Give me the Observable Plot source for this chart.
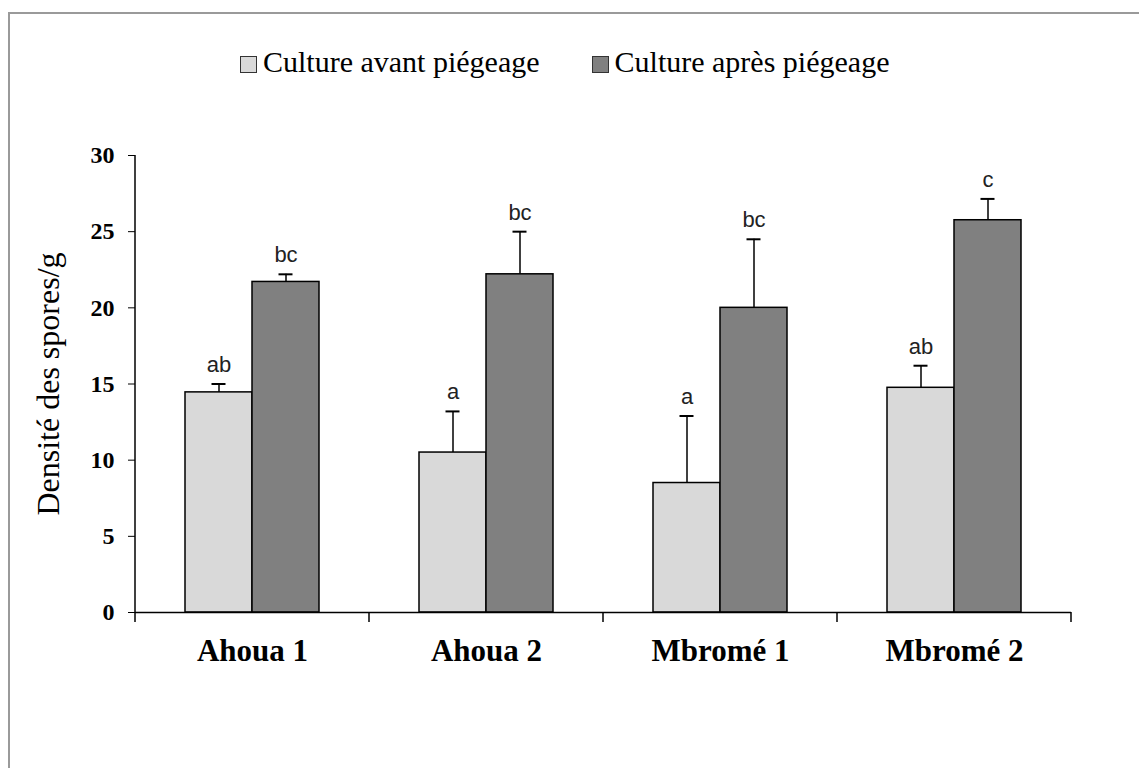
<!DOCTYPE html>
<html>
<head>
<meta charset="utf-8">
<script src="https://cdn.jsdelivr.net/npm/d3@7"></script>
<script src="https://cdn.jsdelivr.net/npm/@observablehq/plot@0.6"></script>
<style>
  html, body { margin: 0; padding: 0; background: #fff; overflow: hidden; }
  #wrap { position: relative; width: 1139px; height: 768px; }
  #frame { position: absolute; left: 8px; top: 12px; width: 1200px; height: 800px;
           border-top: 2px solid #9a9a9a; border-left: 2px solid #9a9a9a; pointer-events: none; }
  #legend { height: 90px; box-sizing: border-box; padding-top: 33px; padding-left: 240px;
            display: flex; gap: 52px;
            font-family: "Liberation Serif", "Times New Roman", serif; font-size: 30px; line-height: 34px; color: #000; }
  .item { display: flex; align-items: center; }
  .sw { width: 15px; height: 15px; border: 1.5px solid #333; margin-right: 6px; position: relative; top: 3px; }
  #chart svg { display: block; }
</style>
</head>
<body>
<div id="wrap">
  <div id="legend"></div>
  <div id="chart"></div>
  <div id="frame"></div>
</div>
<script>
// ---- data ----
const groups = ["Ahoua 1", "Ahoua 2", "Mbromé 1", "Mbromé 2"];
const series = ["Culture avant piégeage", "Culture après piégeage"];
const avant = [14.45, 10.5, 8.5, 14.75];
const avantErr = [0.55, 2.7, 4.4, 1.45];
const apres = [21.7, 22.2, 20.0, 25.75];
const apresErr = [0.5, 2.8, 4.5, 1.4];
const avantLetters = ["ab", "a", "a", "ab"];
const apresLetters = ["bc", "bc", "bc", "c"];
const yTicks = [0, 5, 10, 15, 20, 25, 30];
const yLabel = "Densité des spores/g";
const colors = ["#d9d9d9", "#808080"];

const rows = [];
groups.forEach((g, i) => {
  rows.push({group: g, series: series[0], value: avant[i], err: avantErr[i], top: avant[i] + avantErr[i], letter: avantLetters[i]});
  rows.push({group: g, series: series[1], value: apres[i], err: apresErr[i], top: apres[i] + apresErr[i], letter: apresLetters[i]});
});

const serif = "'Liberation Serif', 'Times New Roman', serif";
const sans = "'Liberation Sans', Arial, sans-serif";

// ---- legend ----
const legend = document.getElementById("legend");
series.forEach((s, i) => {
  const item = document.createElement("div");
  item.className = "item";
  const sw = document.createElement("span");
  sw.className = "sw";
  sw.style.background = colors[i];
  const t = document.createElement("span");
  t.textContent = s;
  item.appendChild(sw);
  item.appendChild(t);
  legend.appendChild(item);
});

// ---- chart ----
const plot = Plot.plot({
  width: 1139,
  height: 678,
  marginLeft: 135,
  marginRight: 68,
  marginTop: 65,
  marginBottom: 156,
  style: {background: "transparent", overflow: "visible"},
  fx: {domain: groups, padding: 0, axis: null},
  x: {domain: series, paddingInner: 0, paddingOuter: 0.746, axis: null},
  y: {domain: [0, 30], axis: null},
  color: {domain: series, range: colors},
  marks: [
    Plot.barY(rows, {fx: "group", x: "series", y: "value", fill: "series", stroke: "#000", strokeWidth: 1.5, inset: 0}),
    Plot.ruleX(rows, {fx: "group", x: "series", y1: "value", y2: "top", stroke: "#000", strokeWidth: 1.5}),
    Plot.tickY(rows, {fx: "group", x: "series", y: "top", stroke: "#000", strokeWidth: 2, insetLeft: 26.5, insetRight: 26.5}),
    Plot.text(rows, {fx: "group", x: "series", y: "top", text: "letter", dy: -19, fontSize: 22, fontFamily: sans, fill: "#222"}),
    Plot.ruleY([0], {stroke: "#000", strokeWidth: 1.5}),
    Plot.axisY({ticks: yTicks, tickSize: 7, tickPadding: 14, fontSize: 24, fontWeight: "bold", fontFamily: serif, label: null}),
    Plot.axisY({ticks: [], label: yLabel, labelAnchor: "center", labelArrow: "none", labelOffset: 99, fontSize: 32, fontFamily: serif}),
    Plot.axisFx({anchor: "bottom", tickSize: 0, tickPadding: 26, fontSize: 31, fontWeight: "bold", fontFamily: serif, label: null})
  ]
});
document.getElementById("chart").appendChild(plot);

// axis line and category boundary ticks, placed through the plot's own scales
const fxs = plot.scale("fx");
const ys = plot.scale("y");
const svg = d3.select(plot.tagName.toLowerCase() === "svg" ? plot : plot.querySelector("svg"));
const y0 = ys.apply(0), yTop = ys.apply(30);
const left = fxs.apply(groups[0]);
const gAxis = svg.append("g").attr("stroke", "#000").attr("stroke-width", 1.5);
gAxis.append("line").attr("x1", left).attr("x2", left).attr("y1", yTop).attr("y2", y0 + 10);
const bounds = groups.slice(1).map(g => fxs.apply(g)).concat([fxs.apply(groups[groups.length - 1]) + fxs.bandwidth]);
bounds.forEach(b => {
  gAxis.append("line").attr("x1", b).attr("x2", b).attr("y1", y0).attr("y2", y0 + 10);
});
</script>
</body>
</html>
